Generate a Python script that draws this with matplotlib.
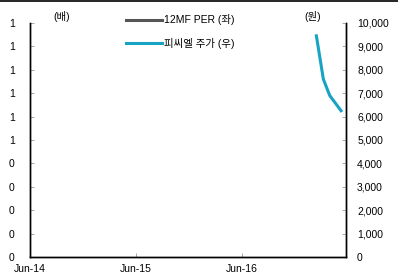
import matplotlib
matplotlib.use("Agg")
import matplotlib.pyplot as plt
from matplotlib.lines import Line2D
import pandas as pd

plt.rcParams["font.family"] = ["Liberation Sans", "Noto Sans CJK KR", "DejaVu Sans"]
plt.rcParams["font.size"] = 7.5

# data
price_dates = ["2017-02-12", "2017-03-08", "2017-03-30", "2017-05-08"]
price_values = [9450, 7600, 6900, 6250]
per_dates = []
per_values = []

left_ticks = [0, 0.1, 0.2, 0.3, 0.4, 0.5, 0.6, 0.7, 0.8, 0.9, 1.0]
left_labels = ["0", "0", "0", "0", "0", "1", "1", "1", "1", "1", "1"]
right_ticks = [0, 1000, 2000, 3000, 4000, 5000, 6000, 7000, 8000, 9000, 10000]
x_ticks = ["2014-06-01", "2015-06-01", "2016-06-01"]
x_labels = ["Jun-14", "Jun-15", "Jun-16"]

PER_COLOR = "#555555"
PRICE_COLOR = "#17a3c4"

fig = plt.figure(figsize=(3.98, 2.77), dpi=100)
ax = fig.add_axes([0.0754, 0.0722, 0.7939, 0.8448])
ax2 = ax.twinx()

ax.plot(pd.to_datetime(per_dates), per_values, color=PER_COLOR, lw=2.2)
ax2.plot(pd.to_datetime(price_dates), price_values, color=PRICE_COLOR, lw=2.2)

ax.set_xlim(pd.Timestamp("2014-06-01"), pd.Timestamp("2017-05-25"))
ax.set_ylim(0, 1)
ax2.set_ylim(0, 10000)

ax.set_xticks(pd.to_datetime(x_ticks))
ax.set_xticklabels(x_labels)
ax.set_yticks(left_ticks)
ax.set_yticklabels(left_labels)
ax2.set_yticks(right_ticks)
ax2.set_yticklabels([f"{v:,}" for v in right_ticks])

for a in (ax, ax2):
    a.spines["top"].set_visible(False)
    for s in a.spines.values():
        s.set_linewidth(1.0)
        s.set_color("black")
    a.tick_params(direction="in", length=3, width=0.6, color="#999999", labelcolor="black")
ax.tick_params(axis="y", pad=11)
ax2.tick_params(axis="y", pad=8)
ax.tick_params(axis="x", pad=5)

fig.text(62 / 398, 1 - 17 / 277, "(배)", ha="center", va="center", fontsize=7.5)
fig.text(313 / 398, 1 - 17 / 277, "(원)", ha="center", va="center", fontsize=7.5)

handles = [Line2D([], [], color=PER_COLOR, lw=2.2), Line2D([], [], color=PRICE_COLOR, lw=2.2)]
fig.legend(handles, ["12MF PER (좌)", "피씨엘 주가 (우)"], loc="upper left",
           bbox_to_anchor=(122 / 398, 1 - 10 / 277), frameon=False,
           handlelength=3.4, handletextpad=0.2, labelspacing=1.2, fontsize=7.5,
           borderaxespad=0)

fig.add_artist(Line2D([0, 1], [1 - 1 / 277, 1 - 1 / 277], transform=fig.transFigure,
                      color="black", lw=1.2))

fig.savefig("out.png", dpi=100)
